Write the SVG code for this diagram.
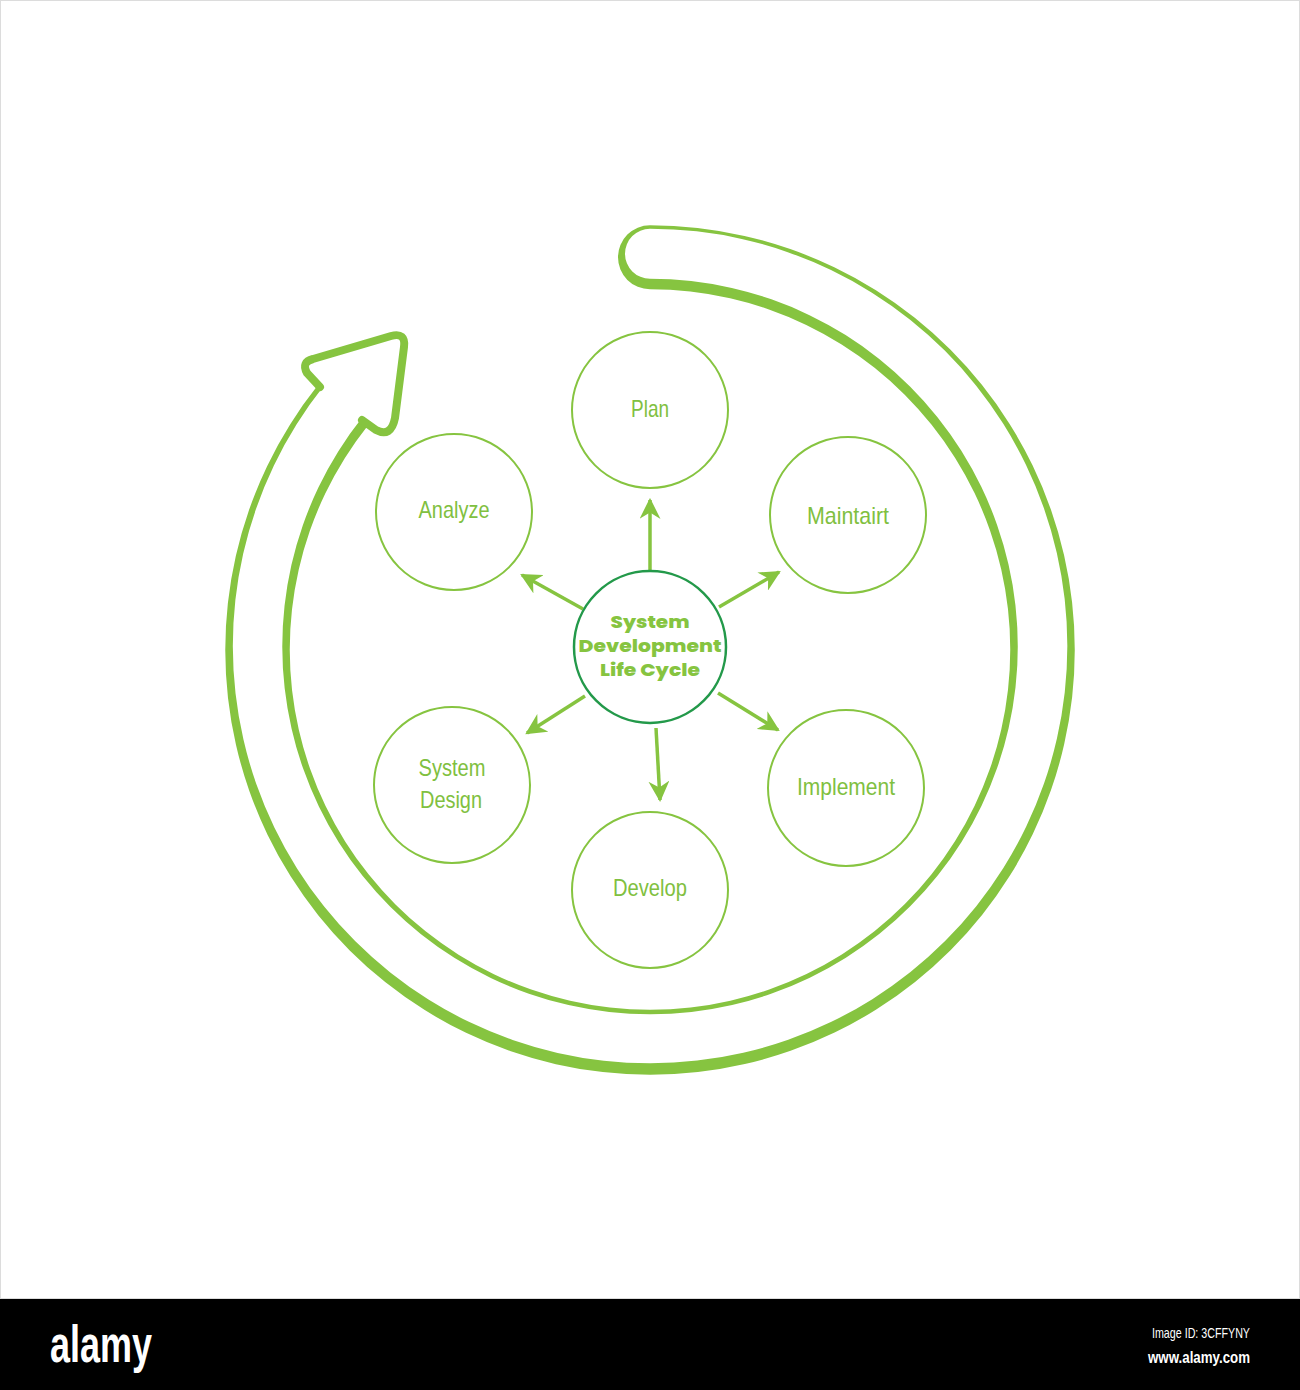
<svg xmlns="http://www.w3.org/2000/svg" width="1300" height="1390" viewBox="0 0 1300 1390">
  <defs>
    <style>
      .ring { fill: #86c440; fill-rule: evenodd; stroke: none; }
      .head { fill: none; stroke: #86c440; stroke-width: 8; stroke-linejoin: round; stroke-linecap: round; }
      .node { fill: #ffffff; stroke: #86c440; stroke-width: 2; }
      .hub { fill: #ffffff; stroke: #23994a; stroke-width: 2.5; }
      .lbl { font-family: "Liberation Sans", Arial, sans-serif; font-size: 24px; fill: #80c040; text-anchor: middle; }
      .hubtxt { font-family: "Poppins", "Inter", "Open Sans", sans-serif; font-weight: 800; font-size: 17px; fill: #86c440; text-anchor: middle; }
      .conn { stroke: #86c440; stroke-width: 3.5; fill: none; marker-end: url(#ah); }
      .wm { font-family: "Liberation Sans", Arial, sans-serif; fill: #ffffff; }
    </style>
    <marker id="ah" viewBox="0 0 10 10" refX="9" refY="5" markerWidth="6" markerHeight="6" markerUnits="strokeWidth" orient="auto">
      <path d="M0,0 L10,5 L0,10 L3,5 Z" fill="#86c440"/>
    </marker>
  </defs>

  <rect x="0" y="0" width="1300" height="1390" fill="#ffffff"/>
  <rect x="0.5" y="0.5" width="1299" height="1298" fill="none" stroke="#dcdcdc" stroke-width="1"/>

  <!-- big cycle arrow -->
  <g id="cycle-arrow">
    <path class="ring" d="M 317.6,385.6 A 424.75 424.75 0 1 0 650,225.25 A 32 32 0 0 0 650,289.25 A 360.25 360.25 0 1 1 368.1,425.2 L 362.2,417.6 A 367.75 367.75 0 1 0 650,278.75 A 25 25 0 0 1 650,228.75 A 417.25 417.25 0 1 1 323.5,386.3 Z"/>
    <path class="head" d="M 320,387 L 307,373 Q 301,362 313,359 L 391,336 Q 406,332 404,347 L 395,418 Q 391,438 376,430 L 362,420"/>
  </g>

  <!-- connectors -->
  <g id="connectors">
    <line class="conn" x1="650" y1="571" x2="650" y2="500"/>
    <line class="conn" x1="719" y1="607" x2="779" y2="572"/>
    <line class="conn" x1="718" y1="693" x2="778" y2="730"/>
    <line class="conn" x1="656" y1="728" x2="660" y2="800"/>
    <line class="conn" x1="585" y1="696" x2="527" y2="733"/>
    <line class="conn" x1="583" y1="609" x2="522" y2="575"/>
  </g>

  <g id="node-plan">
    <circle class="node" cx="650" cy="410" r="78"/>
    <text class="lbl" x="650" y="417" textLength="38" lengthAdjust="spacingAndGlyphs">Plan</text>
  </g>
  <g id="node-maintain">
    <circle class="node" cx="848" cy="515" r="78"/>
    <text class="lbl" x="848" y="524" textLength="82" lengthAdjust="spacingAndGlyphs">Maintairt</text>
  </g>
  <g id="node-implement">
    <circle class="node" cx="846" cy="788" r="78"/>
    <text class="lbl" x="846" y="795" textLength="98" lengthAdjust="spacingAndGlyphs">Implement</text>
  </g>
  <g id="node-develop">
    <circle class="node" cx="650" cy="890" r="78"/>
    <text class="lbl" x="650" y="896" textLength="74" lengthAdjust="spacingAndGlyphs">Develop</text>
  </g>
  <g id="node-system-design">
    <circle class="node" cx="452" cy="785" r="78"/>
    <text class="lbl" x="452" y="776" textLength="67" lengthAdjust="spacingAndGlyphs">System</text>
    <text class="lbl" x="451" y="808" textLength="62" lengthAdjust="spacingAndGlyphs">Design</text>
  </g>
  <g id="node-analyze">
    <circle class="node" cx="454" cy="512" r="78"/>
    <text class="lbl" x="454" y="518" textLength="71" lengthAdjust="spacingAndGlyphs">Analyze</text>
  </g>
  <g id="node-center">
    <circle class="hub" cx="650" cy="647" r="76"/>
    <text class="hubtxt" x="650" y="628" textLength="79" lengthAdjust="spacingAndGlyphs">System</text>
    <text class="hubtxt" x="650" y="652" textLength="143" lengthAdjust="spacingAndGlyphs">Development</text>
    <text class="hubtxt" x="650" y="676" textLength="100" lengthAdjust="spacingAndGlyphs">Life Cycle</text>
  </g>

  <!-- watermark bar -->
  <g id="watermark">
    <rect x="0" y="1299" width="1300" height="91" fill="#000000"/>
    <text class="wm" x="50" y="1362" font-size="52" font-weight="bold" textLength="102" lengthAdjust="spacingAndGlyphs">alamy</text>
    <text class="wm" x="1152" y="1338" font-size="15" textLength="98" lengthAdjust="spacingAndGlyphs">Image ID: 3CFFYNY</text>
    <text class="wm" x="1148" y="1363" font-size="17" font-weight="bold" textLength="102" lengthAdjust="spacingAndGlyphs">www.alamy.com</text>
  </g>
</svg>
